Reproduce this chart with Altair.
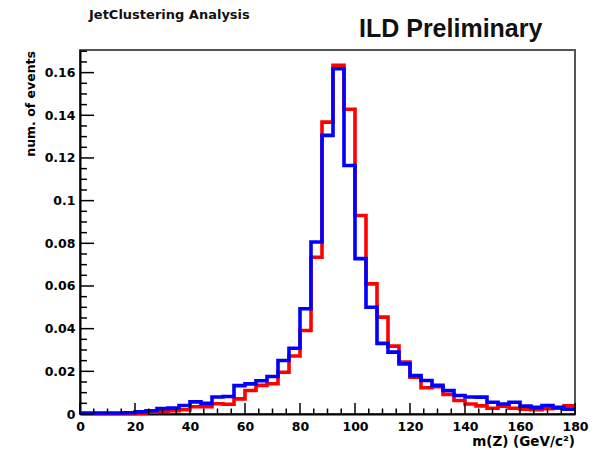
import altair as alt
import pandas as pd

# ---------------- data ----------------
bin_width = 4
x_min, x_max = 0, 180
y_max = 0.1706

red_values = [0.0002, 0.0002, 0.0002, 0.0002, 0.0003, 0.0004, 0.0008, 0.0012, 0.0015, 0.0020,
              0.0034, 0.0034, 0.0048, 0.0046, 0.0071, 0.0110, 0.0134, 0.0142, 0.0196, 0.0272,
              0.0391, 0.0735, 0.1368, 0.1634, 0.1428, 0.0930, 0.0610, 0.0454, 0.0318, 0.0243,
              0.0173, 0.0123, 0.0128, 0.0092, 0.0063, 0.0047, 0.0038, 0.0027, 0.0037, 0.0027,
              0.0022, 0.0020, 0.0025, 0.0027, 0.0038]
blue_values = [0.0005, 0.0005, 0.0005, 0.0005, 0.0006, 0.0010, 0.0015, 0.0025, 0.0028, 0.0040,
               0.0057, 0.0050, 0.0080, 0.0082, 0.0133, 0.0141, 0.0156, 0.0176, 0.0251, 0.0308,
               0.0493, 0.0806, 0.1306, 0.1618, 0.1165, 0.0728, 0.0500, 0.0331, 0.0290, 0.0235,
               0.0180, 0.0157, 0.0134, 0.0110, 0.0087, 0.0080, 0.0079, 0.0055, 0.0047, 0.0055,
               0.0037, 0.0031, 0.0040, 0.0031, 0.0022]

x_major_ticks = [0, 20, 40, 60, 80, 100, 120, 140, 160, 180]
x_minor_ticks = [v for v in range(0, 181, 5) if v % 20 != 0]
y_major_ticks = [0, 0.02, 0.04, 0.06, 0.08, 0.10, 0.12, 0.14, 0.16]
y_minor_ticks = [round(0.005 * k, 3) for k in range(0, 35) if k % 4 != 0]

title_left = "JetClustering Analysis"
title_right = "ILD Preliminary"
x_title = "m(Z) (GeV/c²)"
y_title = "num. of events"

W, H = 495, 364
FONT = "DejaVu Sans"


def hist_frame(values):
    edges = [x_min + bin_width * i for i in range(len(values) + 1)]
    return pd.DataFrame({"x": edges, "y": list(values) + [values[-1]]})


xscale = alt.Scale(domain=[x_min, x_max], nice=False, zero=False)
yscale = alt.Scale(domain=[0, y_max], nice=False)

xaxis = alt.Axis(values=x_major_ticks, ticks=False, grid=False, domainColor="black",
                 domainWidth=2, labelFont=FONT, labelFontWeight="bold", labelFontSize=12.5,
                 labelColor="black", labelPadding=6, title=None, labelFlush=False,
                 labelOverlap=False)
yaxis = alt.Axis(values=y_major_ticks, ticks=False, grid=False, domainColor="black",
                 domainWidth=2, labelFont=FONT, labelFontWeight="bold", labelFontSize=12.5,
                 labelColor="black", labelPadding=5, title=None, format=".2~f",
                 labelFlush=False, labelOverlap=False)

red = alt.Chart(hist_frame(red_values)).mark_line(
    interpolate="step-after", color="#ff0000", strokeWidth=3.6
).encode(x=alt.X("x:Q", scale=xscale, axis=xaxis), y=alt.Y("y:Q", scale=yscale, axis=yaxis))

blue = alt.Chart(hist_frame(blue_values)).mark_line(
    interpolate="step-after", color="#0000ff", strokeWidth=3.6
).encode(x=alt.X("x:Q", scale=xscale), y=alt.Y("y:Q", scale=yscale))

xmaj = alt.Chart(pd.DataFrame({"v": x_major_ticks})).mark_rule(color="black", strokeWidth=1.5).encode(
    x=alt.X("v:Q", scale=xscale), y=alt.value(H), y2=alt.value(H - 11))
xmin_ = alt.Chart(pd.DataFrame({"v": x_minor_ticks})).mark_rule(color="black", strokeWidth=1.5).encode(
    x=alt.X("v:Q", scale=xscale), y=alt.value(H), y2=alt.value(H - 5.5))
ymaj = alt.Chart(pd.DataFrame({"v": y_major_ticks})).mark_rule(color="black", strokeWidth=1.5).encode(
    y=alt.Y("v:Q", scale=yscale), x=alt.value(0), x2=alt.value(14))
ymin_ = alt.Chart(pd.DataFrame({"v": y_minor_ticks})).mark_rule(color="black", strokeWidth=1.5).encode(
    y=alt.Y("v:Q", scale=yscale), x=alt.value(0), x2=alt.value(7))

t1 = alt.Chart(pd.DataFrame({"t": [title_left]})).mark_text(
    font=FONT, fontWeight="bold", fontSize=13, align="left", baseline="alphabetic", color="#111"
).encode(text="t:N", x=alt.value(9), y=alt.value(-31))
t2 = alt.Chart(pd.DataFrame({"t": [title_right]})).mark_text(
    font="Liberation Sans", fontWeight="bold", fontSize=25, align="left", baseline="alphabetic", color="#111"
).encode(text="t:N", x=alt.value(279), y=alt.value(-13))
tx = alt.Chart(pd.DataFrame({"t": [x_title]})).mark_text(
    font=FONT, fontWeight="bold", fontSize=13.5, align="right", baseline="alphabetic", color="black"
).encode(text="t:N", x=alt.value(W), y=alt.value(396))
ty = alt.Chart(pd.DataFrame({"t": [y_title]})).mark_text(
    font=FONT, fontWeight="bold", fontSize=12.5, align="right", baseline="middle", angle=270, color="black"
).encode(text="t:N", x=alt.value(-49), y=alt.value(1))

chart = alt.layer(red, blue, xmaj, xmin_, ymaj, ymin_, t1, t2, tx, ty).properties(
    width=W, height=H,
    autosize=alt.AutoSizeParams(type="none"),
    padding={"left": 80, "top": 50, "right": 21, "bottom": 41},
    background="white",
).configure_view(stroke="#555", strokeWidth=2)

chart.save("out.html", embed_options={"renderer": "svg", "actions": False})
